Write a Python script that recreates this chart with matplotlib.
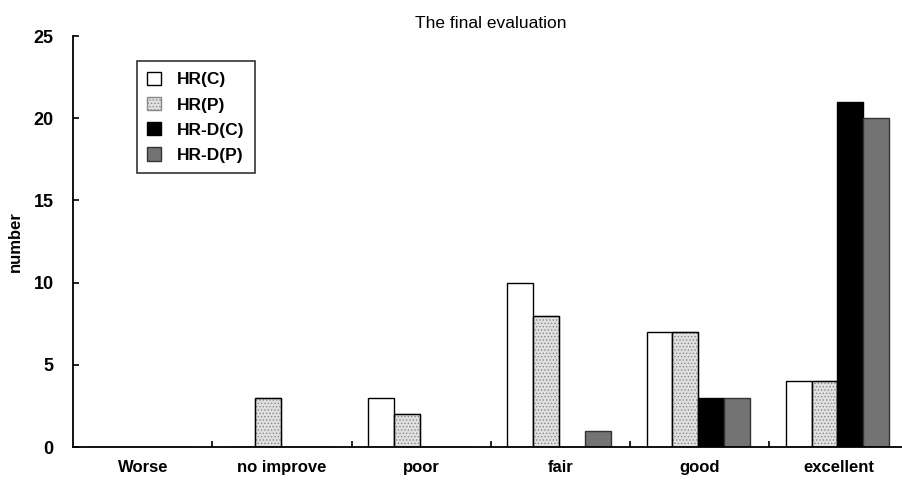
import matplotlib
matplotlib.use("Agg")
import matplotlib.pyplot as plt
import numpy as np

categories = ["Worse", "no improve", "poor", "fair", "good", "excellent"]
series_names = ["HR(C)", "HR(P)", "HR-D(C)", "HR-D(P)"]
hr_c = [0, 0, 3, 10, 7, 4]
hr_p = [0, 3, 2, 8, 7, 4]
hrd_c = [0, 0, 0, 0, 3, 21]
hrd_p = [0, 0, 0, 1, 3, 20]
y_ticks = [0, 5, 10, 15, 20, 25]

plt.rcParams['font.family'] = ['Liberation Sans', 'DejaVu Sans']
plt.rcParams['hatch.linewidth'] = 0.6
fig = plt.figure(figsize=(9.03, 4.88), dpi=100)
ax = fig.add_axes([0.081, 0.084, 0.925, 0.842])

x = np.arange(len(categories))
w = 0.185
styles = [
    dict(facecolor="white", edgecolor="black", hatch=None),
    dict(facecolor="#e0e0e0", edgecolor="#888888", hatch="....."),
    dict(facecolor="black", edgecolor="black", hatch=None),
    dict(facecolor="#737373", edgecolor="#333333", hatch=None),
]
data = [hr_c, hr_p, hrd_c, hrd_p]
for i, (vals, st, name) in enumerate(zip(data, styles, series_names)):
    ax.bar(x + (i - 1.5) * w - 0.01, vals, width=w, label=name,
           facecolor=st["facecolor"], edgecolor=st["edgecolor"],
           hatch=st["hatch"], linewidth=1.0)

# outline for hatched bars
ax.bar(x + (1 - 1.5) * w - 0.01, hr_p, width=w, facecolor="none",
       edgecolor="black", linewidth=1.0)

ax.set_xlim(-0.5, len(categories) - 0.5)
ax.set_ylim(0, 25)
ax.set_yticks(y_ticks)
ax.set_yticklabels([str(t) for t in y_ticks], fontweight="bold", fontsize=13)
ax.set_xticks(x)
ax.set_xticklabels(categories, fontweight="bold", fontsize=12)
ax.tick_params(axis="x", length=0, pad=9)
ax.set_xticks(np.arange(0.5, len(categories) - 0.5, 1), minor=True)
ax.tick_params(axis="x", which="minor", direction="in", length=4, width=1.2)
ax.tick_params(axis="y", direction="in", length=4, width=1.2, pad=14)
for s in ["top", "right"]:
    ax.spines[s].set_visible(False)
ax.spines["left"].set_linewidth(1.3)
ax.spines["bottom"].set_linewidth(1.3)

ax.set_ylabel("number", fontweight="bold", fontsize=12, labelpad=8)
ax.set_title("The final evaluation", fontsize=12.5, pad=6)

leg = ax.legend(loc="upper left", bbox_to_anchor=(0.066, 0.96), frameon=True,
                fancybox=False, edgecolor="black", fontsize=12.5,
                handlelength=0.8, handleheight=0.8, handletextpad=0.9,
                borderpad=0.6, labelspacing=0.55)
leg.get_frame().set_linewidth(1.2)
for t in leg.get_texts():
    t.set_fontweight("bold")

fig.savefig("out.png", dpi=100)
